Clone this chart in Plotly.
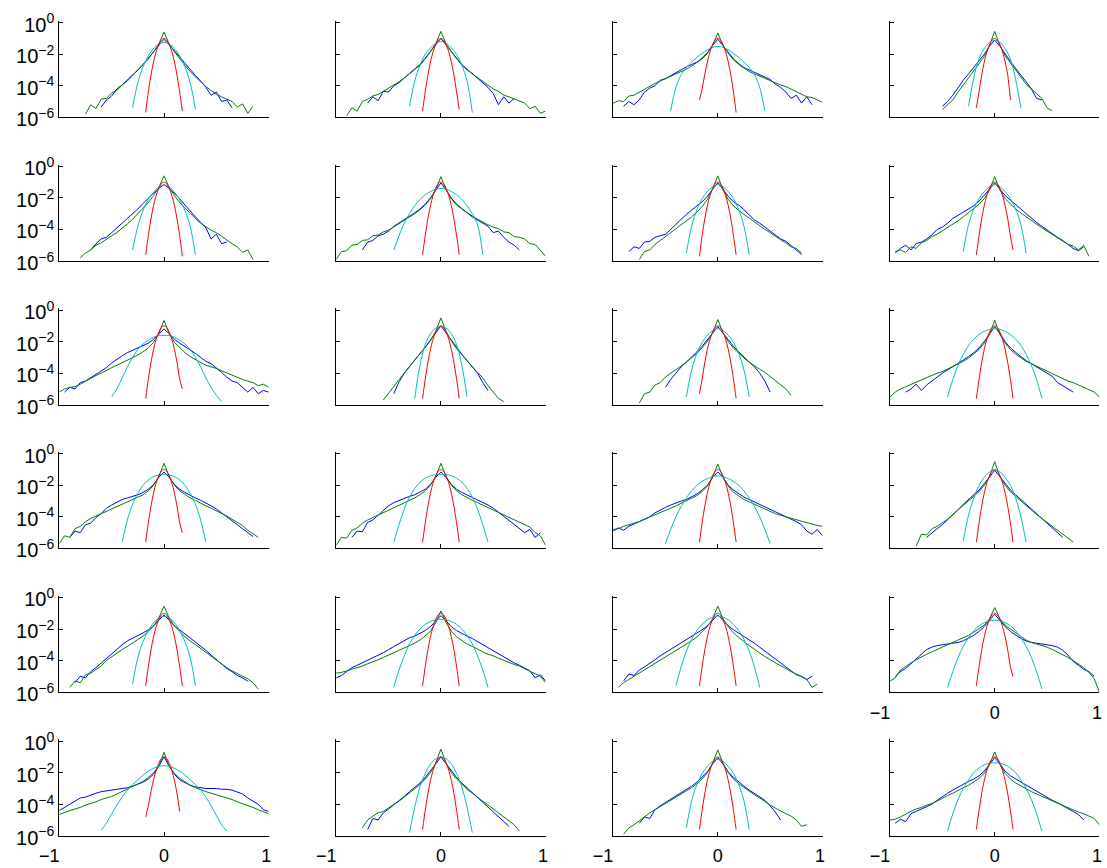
import plotly.graph_objects as go

N = None

# x grids (bin centres) for the empirical curves and the two smooth curves
X_BG = [-1.0, -0.95, -0.9, -0.85, -0.8, -0.75, -0.7, -0.65, -0.6, -0.55, -0.5, -0.45, -0.4, -0.35,
        -0.3, -0.25, -0.2, -0.15, -0.1, -0.05, 0.0, 0.05, 0.1, 0.15, 0.2, 0.25, 0.3, 0.35, 0.4,
        0.45, 0.5, 0.55, 0.6, 0.65, 0.7, 0.75, 0.8, 0.85, 0.9, 0.95, 1.0]
X_C = [-0.6, -0.55, -0.5, -0.45, -0.4, -0.35, -0.3, -0.25, -0.2, -0.15, -0.1, -0.05, 0.0,
       0.05, 0.1, 0.15, 0.2, 0.25, 0.3, 0.35, 0.4, 0.45, 0.5, 0.55, 0.6]
X_R = [-0.175, -0.15, -0.125, -0.1, -0.075, -0.05, -0.025, 0.0, 0.025, 0.05, 0.075, 0.1, 0.125, 0.15, 0.175]

Y_TICKS = [1, 1e-2, 1e-4, 1e-6]
Y_TICK_TEXT = ["10<sup>0</sup>", "10<sup>\u22122</sup>", "10<sup>\u22124</sup>", "10<sup>\u22126</sup>"]
X_TICKS = [-1, 0, 1]
X_TICK_TEXT = ["\u22121\u00a0\u00a0\u00a0\u00a0", "0", "1\u00a0"]

# ---- values are log10 of the probability density ----
# row 1
G_11 = [N, N, N, N, N, -5.8, -5.2, -5.45, -4.85, -4.8, -4.45, -4.3, -3.95, -3.7, -3.35, -3.05, -2.7, -2.3, -1.85, -1.35, -0.6,
        -1.35, -1.85, -2.3, -2.7, -3.1, -3.45, -3.75, -4.05, -4.3, -4.55, -4.7, -4.85, -5.0, -5.35, -5.15, -5.75, -5.3, N, N, N]
B_11 = [N, N, N, N, N, N, N, N, -5.35, -4.9, -4.65, -4.2, -3.95, -3.65, -3.3, -3.0, -2.65, -2.25, -1.8, -1.4, -1.05,
        -1.4, -1.8, -2.2, -2.6, -3.0, -3.35, -3.7, -4.1, -4.6, -4.4, -5.0, -4.9, -5.4, N, N, N, N, N, N, N]
C_11 = [N, N, N, N, N, N, -5.4, -3.8, -2.8, -2.1, -1.65, -1.35, -1.25, -1.35, -1.65, -2.1, -2.8, -3.8, -5.5, N, N, N, N, N, N]
R_11 = [-5.7, -4.4, -3.35, -2.5, -1.85, -1.4, -1.1, -1.0, -1.1, -1.4, -1.85, -2.5, -3.35, -4.4, -5.6]

G_12 = [N, N, -5.9, -5.4, -5.6, -5.0, -4.85, -4.65, -4.55, -4.35, -4.2, -4.0, -3.75, -3.5, -3.25, -3.0, -2.7, -2.3, -1.85, -1.35, -0.55,
        -1.35, -1.85, -2.3, -2.7, -3.0, -3.25, -3.5, -3.75, -3.95, -4.2, -4.35, -4.6, -4.7, -4.85, -5.0, -5.1, -5.45, -5.3, -5.75, -5.6]
B_12 = [N, N, N, N, N, N, -5.1, -4.7, -4.95, -4.35, -4.4, -4.0, -3.8, -3.5, -3.25, -2.95, -2.65, -2.25, -1.8, -1.4, -1.0,
        -1.4, -1.8, -2.25, -2.65, -2.95, -3.25, -3.5, -3.8, -4.1, -4.5, -5.2, -4.7, -5.1, -4.8, N, N, N, N, N, N]
C_12 = [N, N, N, N, N, N, -5.3, -3.7, -2.7, -2.0, -1.6, -1.3, -1.2, -1.3, -1.6, -2.0, -2.7, -3.7, -5.7, N, N, N, N, N, N]
R_12 = [-5.6, -4.4, -3.35, -2.5, -1.85, -1.4, -1.1, -1.0, -1.1, -1.4, -1.85, -2.5, -3.35, -4.4, -5.5]

G_13 = [-5.1, -4.95, -5.0, -4.65, -4.6, -4.4, -4.2, -4.05, -3.85, -3.7, -3.55, -3.45, -3.3, -3.15, -2.95, -2.75, -2.55, -2.3, -1.95, -1.45, -0.65,
        -1.45, -1.95, -2.35, -2.65, -2.9, -3.1, -3.25, -3.4, -3.55, -3.65, -3.8, -3.95, -4.05, -4.2, -4.35, -4.5, -4.7, -4.75, -4.9, -5.05]
B_13 = [N, N, -5.3, -5.0, -5.2, -4.9, -4.4, -4.15, -4.0, -3.65, -3.55, -3.35, -3.15, -2.95, -2.8, -2.65, -2.5, -2.25, -1.9, -1.45, -1.05,
        -1.45, -1.9, -2.3, -2.6, -2.85, -3.0, -3.15, -3.3, -3.45, -3.6, -3.9, -4.1, -4.4, -4.8, -4.6, -5.1, -4.7, -5.2, N, N]
C_13 = [N, N, N, -5.6, -4.1, -3.3, -2.85, -2.5, -2.2, -1.95, -1.72, -1.57, -1.5, -1.57, -1.72, -1.95, -2.2, -2.5, -2.85, -3.3, -4.1, -5.6, N, N, N]
R_13 = [-4.9, -4.2, -3.3, -2.5, -1.85, -1.4, -1.1, -1.0, -1.1, -1.4, -1.85, -2.5, -3.35, -4.4, -5.7]

G_14 = [N, N, N, N, N, N, N, N, N, N, -5.5, -5.2, -4.9, -4.4, -3.95, -3.5, -3.1, -2.65, -2.15, -1.45, -0.55,
        -1.45, -2.1, -2.55, -3.0, -3.45, -3.9, -4.2, -4.5, -4.8, -5.4, -5.6, N, N, N, N, N, N, N, N, N]
B_14 = [N, N, N, N, N, N, N, N, N, N, -5.3, -5.0, -4.6, -4.1, -3.65, -3.25, -2.85, -2.45, -2.0, -1.5, -1.1,
        -1.5, -2.0, -2.45, -2.9, -3.3, -3.75, -4.2, -4.8, -4.9, N, N, N, N, N, N, N, N, N, N, N]
C_14 = [N, N, N, N, N, N, N, -5.3, -3.5, -2.3, -1.65, -1.25, -1.12, -1.25, -1.65, -2.3, -3.6, -5.4, N, N, N, N, N, N, N]
R_14 = [-5.4, -4.4, -3.35, -2.5, -1.85, -1.4, -1.1, -1.0, -1.1, -1.4, -1.85, -2.5, -3.35, -4.9, N]

# row 2
G_21 = [N, N, N, N, -5.8, -5.5, -5.3, -5.0, -4.85, -4.6, -4.4, -4.2, -3.95, -3.65, -3.35, -3.0, -2.7, -2.3, -1.85, -1.35, -0.6,
        -1.35, -1.85, -2.3, -2.65, -3.0, -3.3, -3.6, -3.85, -4.05, -4.2, -4.45, -4.7, -4.9, -5.1, -5.45, -5.3, -5.9, N, N, N]
B_21 = [N, N, N, N, N, N, -5.3, -4.9, -4.6, -4.5, -4.2, -3.9, -3.6, -3.35, -3.0, -2.7, -2.35, -2.0, -1.7, -1.4, -1.15,
        -1.4, -1.7, -2.05, -2.45, -2.85, -3.2, -3.55, -3.9, -4.6, -4.3, -4.9, -4.8, N, N, N, N, N, N, N, N]
C_21 = [N, N, N, N, N, N, -5.3, -3.8, -2.8, -2.1, -1.65, -1.3, -1.2, -1.3, -1.65, -2.1, -2.8, -3.8, -5.6, N, N, N, N, N, N]
R_21 = [-5.6, -4.4, -3.35, -2.5, -1.85, -1.4, -1.1, -1.0, -1.1, -1.4, -1.85, -2.5, -3.35, -4.4, -5.7]

G_22 = [-5.9, -5.4, -5.35, -5.0, -4.95, -4.7, -4.65, -4.4, -4.35, -4.15, -4.05, -3.85, -3.65, -3.45, -3.25, -3.0, -2.75, -2.45, -2.05, -1.5, -0.65,
        -1.5, -2.05, -2.45, -2.7, -2.95, -3.15, -3.35, -3.55, -3.7, -3.85, -3.95, -4.15, -4.2, -4.45, -4.5, -4.6, -4.9, -4.95, -5.3, -5.7]
B_22 = [N, N, N, N, N, -5.3, -4.8, -4.7, -4.4, -4.3, -4.1, -3.8, -3.6, -3.4, -3.2, -2.95, -2.7, -2.4, -2.0, -1.5, -1.05,
        -1.5, -2.0, -2.4, -2.7, -2.95, -3.2, -3.4, -3.6, -3.8, -4.2, -4.1, -4.5, -4.8, -5.0, -5.3, N, N, N, N, N]
C_22 = [N, N, N, -5.3, -4.4, -3.6, -3.0, -2.5, -2.1, -1.8, -1.6, -1.45, -1.4, -1.45, -1.6, -1.8, -2.1, -2.5, -3.0, -3.7, -5.6, N, N, N, N]
R_22 = [-5.6, -4.4, -3.35, -2.5, -1.85, -1.4, -1.1, -1.0, -1.1, -1.4, -1.85, -2.5, -3.35, -4.4, -5.6]

G_23 = [N, N, N, N, N, -5.9, -5.4, -5.3, -4.95, -4.7, -4.45, -4.25, -4.0, -3.75, -3.5, -3.2, -2.9, -2.55, -2.1, -1.45, -0.6,
        -1.5, -2.1, -2.5, -2.8, -3.05, -3.3, -3.55, -3.75, -4.0, -4.2, -4.45, -4.65, -4.85, -5.1, -5.2, -5.5, N, N, N, N]
B_23 = [N, N, N, -5.4, -5.1, -5.2, -4.8, -4.75, -4.5, -4.4, -4.3, -4.0, -3.65, -3.35, -3.05, -2.75, -2.5, -2.25, -1.9, -1.45, -1.05,
        -1.45, -1.9, -2.25, -2.45, -2.75, -3.05, -3.4, -3.6, -3.85, -4.1, -4.4, -4.6, -4.75, -5.0, -5.3, -5.6, N, N, N, N]
C_23 = [N, N, N, N, N, N, -5.5, -3.8, -2.75, -2.05, -1.6, -1.3, -1.15, -1.3, -1.6, -2.05, -2.75, -3.8, -5.6, N, N, N, N, N, N]
R_23 = [-5.7, -4.4, -3.35, -2.5, -1.85, -1.4, -1.1, -1.0, -1.1, -1.4, -1.85, -2.5, -3.35, -4.4, -5.6]

G_24 = [N, -5.4, -5.3, -5.45, -5.1, -5.2, -4.85, -4.7, -4.45, -4.3, -4.1, -3.9, -3.7, -3.45, -3.2, -2.95, -2.7, -2.4, -2.05, -1.5, -0.65,
        -1.5, -2.05, -2.4, -2.7, -2.95, -3.2, -3.45, -3.7, -3.9, -4.1, -4.3, -4.5, -4.75, -4.95, -5.05, -5.3, -5.0, -5.7, N, N]
B_24 = [N, -5.5, -5.2, -5.0, -5.3, -4.9, -4.8, -4.6, -4.35, -4.0, -3.85, -3.6, -3.3, -3.1, -2.9, -2.7, -2.5, -2.2, -1.85, -1.45, -1.05,
        -1.45, -1.85, -2.15, -2.4, -2.7, -3.0, -3.3, -3.55, -3.8, -4.05, -4.3, -4.5, -4.7, -4.95, -5.2, -5.35, -5.1, N, N, N]
C_24 = [N, N, N, N, N, N, -5.4, -3.7, -2.7, -2.05, -1.6, -1.3, -1.15, -1.3, -1.6, -2.05, -2.7, -3.7, -5.5, N, N, N, N, N, N]
R_24 = [-5.6, -4.4, -3.35, -2.5, -1.85, -1.4, -1.1, -1.0, -1.1, -1.4, -1.85, -2.5, -3.35, -4.4, -5.3]

# row 3
G_31 = [-5.2, -5.0, -4.9, -4.85, -4.7, -4.5, -4.35, -4.15, -4.0, -3.8, -3.65, -3.5, -3.35, -3.2, -3.0, -2.85, -2.65, -2.4, -2.05, -1.5, -0.65,
        -1.5, -2.05, -2.4, -2.7, -2.95, -3.15, -3.35, -3.5, -3.6, -3.7, -3.85, -4.0, -4.15, -4.25, -4.4, -4.5, -4.6, -4.8, -4.7, -4.9]
B_31 = [N, -5.2, -4.9, -5.0, -4.6, -4.5, -4.3, -4.1, -3.9, -3.65, -3.35, -3.1, -2.9, -2.7, -2.55, -2.45, -2.3, -2.1, -1.85, -1.5, -1.2,
        -1.5, -1.85, -2.1, -2.3, -2.5, -2.75, -3.0, -3.25, -3.4, -3.65, -3.95, -4.25, -4.5, -4.6, -4.9, -5.2, -4.9, -5.3, -5.1, -5.2]
C_31 = [N, N, -5.5, -5.0, -4.3, -3.6, -3.0, -2.5, -2.15, -1.9, -1.72, -1.62, -1.6, -1.62, -1.72, -1.9, -2.15, -2.5, -3.0, -3.6, -4.3, -4.9, -5.4, -5.8, N]
R_31 = [-5.6, -4.4, -3.35, -2.5, -1.85, -1.4, -1.1, -1.0, -1.1, -1.4, -1.85, -2.5, -3.35, -4.4, -5.0]

G_32 = [N, N, N, N, N, N, N, N, N, -5.7, -5.3, -4.85, -4.4, -4.0, -3.6, -3.2, -2.8, -2.4, -1.95, -1.35, -0.5,
        -1.35, -1.95, -2.45, -2.85, -3.2, -3.6, -3.95, -4.3, -4.8, -5.2, -5.6, -5.8, N, N, N, N, N, N, N, N]
B_32 = [N, N, N, N, N, N, N, N, N, N, N, -5.3, -4.55, -4.0, -3.6, -3.15, -2.75, -2.35, -1.9, -1.45, -1.0,
        -1.45, -1.9, -2.4, -2.8, -3.2, -3.6, -4.0, -4.6, -5.1, N, N, N, N, N, N, N, N, N, N, N]
C_32 = [N, N, N, N, N, N, N, -5.6, -3.5, -2.2, -1.5, -1.15, -1.05, -1.15, -1.5, -2.2, -3.5, -5.5, N, N, N, N, N, N, N]
R_32 = [-5.6, -4.4, -3.35, -2.5, -1.85, -1.4, -1.1, -1.0, -1.1, -1.4, -1.85, -2.5, -3.35, -4.4, -5.6]

G_33 = [N, N, N, N, N, -5.9, -5.3, -5.2, -4.75, -4.6, -4.25, -4.0, -3.8, -3.55, -3.3, -3.05, -2.75, -2.4, -2.0, -1.45, -0.6,
        -1.45, -2.0, -2.4, -2.75, -3.05, -3.3, -3.55, -3.75, -3.95, -4.2, -4.45, -4.75, -5.0, -5.4, N, N, N, N, N, N]
B_33 = [N, N, N, N, N, N, N, N, N, N, -4.9, -4.4, -4.0, -3.6, -3.3, -3.0, -2.65, -2.3, -1.9, -1.45, -1.05,
        -1.45, -1.9, -2.3, -2.65, -3.0, -3.3, -3.6, -4.0, -4.5, -5.2, N, N, N, N, N, N, N, N, N, N]
C_33 = [N, N, N, N, N, N, -5.5, -3.8, -2.75, -2.05, -1.6, -1.3, -1.18, -1.3, -1.6, -2.05, -2.75, -3.8, -5.5, N, N, N, N, N, N]
R_33 = [-5.3, -4.4, -3.35, -2.5, -1.85, -1.4, -1.1, -1.0, -1.1, -1.4, -1.85, -2.5, -3.35, -4.4, -5.6]

G_34 = [-5.5, -5.2, -5.0, -4.85, -4.7, -4.55, -4.45, -4.3, -4.15, -4.0, -3.9, -3.75, -3.6, -3.45, -3.25, -3.05, -2.8, -2.5, -2.1, -1.55, -0.65,
        -1.55, -2.1, -2.5, -2.8, -3.05, -3.25, -3.4, -3.55, -3.75, -3.9, -4.05, -4.2, -4.35, -4.5, -4.6, -4.75, -4.9, -5.1, -5.2, -5.5]
B_34 = [N, N, N, -5.2, -5.0, -4.7, -5.1, -4.75, -4.5, -4.2, -4.0, -3.8, -3.6, -3.4, -3.2, -2.95, -2.7, -2.4, -2.0, -1.5, -1.05,
        -1.5, -2.0, -2.4, -2.7, -2.95, -3.2, -3.4, -3.6, -3.85, -4.0, -4.2, -4.6, -4.8, -5.0, -5.2, N, N, N, N, N]
C_34 = [N, N, N, -5.5, -4.4, -3.5, -2.8, -2.25, -1.85, -1.55, -1.35, -1.22, -1.18, -1.22, -1.35, -1.55, -1.85, -2.25, -2.8, -3.5, -4.4, -5.6, N, N, N]
R_34 = [-5.6, -4.4, -3.35, -2.5, -1.85, -1.4, -1.1, -1.0, -1.1, -1.4, -1.85, -2.5, -3.35, -4.4, -5.6]

# row 4
G_41 = [-5.7, -5.2, -5.3, -4.75, -4.6, -4.3, -4.1, -3.95, -3.8, -3.65, -3.55, -3.4, -3.25, -3.1, -2.95, -2.8, -2.6, -2.35, -2.0, -1.45, -0.6,
        -1.45, -2.0, -2.35, -2.6, -2.8, -2.95, -3.15, -3.3, -3.45, -3.6, -3.75, -3.95, -4.15, -4.35, -4.55, -4.85, -5.1, -5.3, N, N]
B_41 = [N, N, -5.3, -4.9, -5.0, -4.5, -4.4, -4.05, -3.8, -3.45, -3.25, -3.05, -2.9, -2.8, -2.7, -2.6, -2.45, -2.25, -1.95, -1.5, -1.15,
        -1.5, -1.95, -2.25, -2.45, -2.65, -2.8, -2.95, -3.1, -3.3, -3.5, -3.75, -4.0, -4.25, -4.5, -4.75, -5.0, -5.25, N, N, N]
C_41 = [N, N, N, N, -5.6, -4.2, -3.2, -2.5, -2.0, -1.65, -1.45, -1.33, -1.3, -1.33, -1.45, -1.65, -2.0, -2.5, -3.2, -4.2, -5.6, N, N, N, N]
R_41 = [-5.6, -4.4, -3.35, -2.5, -1.85, -1.4, -1.1, -1.0, -1.1, -1.4, -1.85, -2.5, -3.35, -4.4, -5.0]

G_42 = [-5.8, -5.3, -5.35, -4.85, -4.7, -4.4, -4.2, -4.05, -3.9, -3.7, -3.55, -3.4, -3.25, -3.1, -2.95, -2.8, -2.6, -2.35, -2.0, -1.45, -0.6,
        -1.45, -2.0, -2.35, -2.6, -2.8, -2.95, -3.1, -3.25, -3.4, -3.55, -3.7, -3.85, -4.0, -4.2, -4.35, -4.5, -4.65, -5.0, -5.2, -5.8]
B_42 = [N, N, N, -5.3, -4.9, -4.95, -4.35, -4.2, -3.9, -3.55, -3.3, -3.1, -2.95, -2.85, -2.7, -2.6, -2.45, -2.25, -1.95, -1.5, -1.15,
        -1.5, -1.95, -2.25, -2.45, -2.6, -2.75, -2.9, -3.05, -3.25, -3.45, -3.7, -3.95, -4.2, -4.45, -4.7, -5.0, -4.8, -5.3, -5.0, N]
C_42 = [N, N, N, -5.6, -4.5, -3.5, -2.75, -2.2, -1.8, -1.55, -1.4, -1.32, -1.3, -1.32, -1.4, -1.55, -1.8, -2.2, -2.75, -3.5, -4.5, -5.6, N, N, N]
R_42 = [-5.6, -4.4, -3.35, -2.5, -1.85, -1.4, -1.1, -1.0, -1.1, -1.4, -1.85, -2.5, -3.35, -4.4, -5.6]

G_43 = [-4.8, -4.75, -4.6, -4.5, -4.4, -4.3, -4.15, -4.0, -3.9, -3.75, -3.6, -3.45, -3.3, -3.15, -3.0, -2.85, -2.65, -2.4, -2.05, -1.5, -0.65,
        -1.5, -2.05, -2.45, -2.7, -2.9, -3.05, -3.2, -3.35, -3.5, -3.65, -3.8, -3.9, -4.0, -4.1, -4.2, -4.3, -4.4, -4.5, -4.55, -4.6]
B_43 = [-4.9, -4.7, -4.85, -4.6, -4.45, -4.3, -4.15, -4.0, -3.75, -3.55, -3.4, -3.25, -3.1, -3.0, -2.9, -2.75, -2.55, -2.3, -2.0, -1.5, -1.15,
        -1.5, -2.0, -2.3, -2.55, -2.75, -2.9, -3.05, -3.2, -3.35, -3.5, -3.65, -3.8, -4.0, -4.15, -4.3, -4.5, -4.9, -5.1, -4.8, -5.2]
C_43 = [N, N, -5.7, -4.8, -4.0, -3.35, -2.8, -2.35, -2.0, -1.75, -1.57, -1.45, -1.4, -1.45, -1.57, -1.75, -2.0, -2.35, -2.8, -3.35, -4.0, -4.8, -5.7, N, N]
R_43 = [-5.6, -4.4, -3.35, -2.5, -1.85, -1.4, -1.1, -1.0, -1.1, -1.4, -1.85, -2.5, -3.35, -4.4, -5.6]

G_44 = [N, N, N, N, N, -5.85, -5.1, -5.15, -4.75, -4.6, -4.4, -4.15, -3.85, -3.55, -3.25, -2.95, -2.7, -2.4, -2.0, -1.45, -0.5,
        -1.45, -2.0, -2.4, -2.7, -3.0, -3.3, -3.6, -3.85, -4.1, -4.35, -4.6, -4.9, -5.15, -5.4, -5.6, N, N, N, N, N]
B_44 = [N, N, N, N, N, N, N, -5.3, -5.0, -4.75, -4.5, -4.2, -3.9, -3.55, -3.2, -2.9, -2.6, -2.3, -1.9, -1.45, -1.05,
        -1.45, -1.9, -2.3, -2.6, -2.9, -3.2, -3.5, -3.8, -4.1, -4.45, -4.75, -5.05, -5.3, N, N, N, N, N, N, N]
C_44 = [N, N, N, N, N, N, -5.5, -3.9, -2.8, -2.0, -1.5, -1.15, -1.05, -1.15, -1.5, -2.0, -2.8, -4.0, -5.6, N, N, N, N, N, N]
R_44 = [-5.6, -4.4, -3.35, -2.5, -1.85, -1.4, -1.1, -1.0, -1.1, -1.4, -1.85, -2.5, -3.35, -4.4, -5.6]

# row 5
G_51 = [N, N, -5.7, -5.3, -5.4, -4.9, -4.8, -4.6, -4.35, -4.0, -3.75, -3.5, -3.3, -3.1, -2.9, -2.7, -2.45, -2.15, -1.8, -1.3, -0.55,
        -1.3, -1.8, -2.15, -2.5, -2.75, -3.0, -3.25, -3.45, -3.7, -3.95, -4.2, -4.45, -4.65, -4.85, -5.0, -5.15, -5.4, -5.8, N, N]
B_51 = [N, N, N, -5.4, -5.0, -5.1, -4.7, -4.45, -4.15, -3.85, -3.6, -3.3, -3.0, -2.75, -2.6, -2.4, -2.25, -2.05, -1.8, -1.45, -1.1,
        -1.45, -1.8, -2.05, -2.3, -2.55, -2.8, -3.05, -3.35, -3.65, -3.95, -4.25, -4.5, -4.7, -4.95, -5.1, -5.3, N, N, N, N]
C_51 = [N, N, N, N, N, N, -5.5, -3.8, -2.8, -2.1, -1.6, -1.3, -1.2, -1.3, -1.6, -2.1, -2.8, -3.8, -5.6, N, N, N, N, N, N]
R_51 = [-5.6, -4.4, -3.35, -2.5, -1.85, -1.4, -1.1, -1.0, -1.1, -1.4, -1.85, -2.5, -3.35, -4.4, -5.6]

G_52 = [-4.8, -4.75, -4.65, -4.55, -4.45, -4.35, -4.2, -4.1, -3.95, -3.8, -3.65, -3.5, -3.35, -3.2, -3.05, -2.9, -2.7, -2.45, -2.15, -1.6, -0.85,
        -1.6, -2.15, -2.5, -2.75, -2.95, -3.1, -3.3, -3.45, -3.6, -3.7, -3.85, -4.0, -4.1, -4.25, -4.35, -4.5, -4.65, -4.8, -5.0, -5.4]
B_52 = [-5.1, -4.95, -4.7, -4.45, -4.3, -4.15, -4.0, -3.85, -3.7, -3.5, -3.3, -3.1, -2.9, -2.7, -2.55, -2.45, -2.3, -2.1, -1.85, -1.5, -1.15,
        -1.5, -1.85, -2.1, -2.3, -2.45, -2.6, -2.8, -3.0, -3.2, -3.4, -3.6, -3.8, -3.95, -4.15, -4.3, -4.5, -4.65, -5.1, -4.9, -5.3]
C_52 = [N, N, N, -5.7, -4.6, -3.7, -2.95, -2.4, -2.0, -1.7, -1.52, -1.42, -1.4, -1.42, -1.52, -1.7, -2.0, -2.4, -2.95, -3.7, -4.6, -5.7, N, N, N]
R_52 = [-5.6, -4.4, -3.35, -2.5, -1.85, -1.4, -1.1, -1.0, -1.1, -1.4, -1.85, -2.5, -3.35, -4.4, -5.6]

G_53 = [N, -5.7, -5.4, -5.2, -5.0, -4.8, -4.6, -4.35, -4.15, -3.95, -3.75, -3.55, -3.35, -3.15, -2.95, -2.75, -2.5, -2.2, -1.85, -1.35, -0.55,
        -1.35, -1.85, -2.25, -2.55, -2.8, -3.05, -3.3, -3.5, -3.75, -3.95, -4.15, -4.35, -4.5, -4.7, -4.85, -5.0, -5.2, -5.7, -5.5, N]
B_53 = [N, N, -5.3, -4.85, -4.95, -4.6, -4.4, -4.2, -3.95, -3.7, -3.5, -3.3, -3.05, -2.85, -2.65, -2.45, -2.25, -2.05, -1.8, -1.45, -1.1,
        -1.45, -1.8, -2.05, -2.25, -2.45, -2.65, -2.9, -3.15, -3.4, -3.65, -3.85, -4.1, -4.35, -4.6, -4.9, -5.0, -5.2, -5.0, N, N]
C_53 = [N, N, N, N, -5.6, -4.4, -3.4, -2.65, -2.1, -1.7, -1.42, -1.25, -1.18, -1.25, -1.42, -1.7, -2.1, -2.65, -3.4, -4.4, -5.7, N, N, N, N]
R_53 = [-5.6, -4.4, -3.35, -2.5, -1.85, -1.4, -1.1, -1.0, -1.1, -1.4, -1.85, -2.5, -3.35, -4.4, -5.6]

G_54 = [-5.3, -5.1, -4.6, -4.35, -4.15, -3.95, -3.75, -3.6, -3.45, -3.3, -3.15, -3.0, -2.85, -2.7, -2.55, -2.4, -2.2, -2.0, -1.75, -1.35, -0.64,
        -1.35, -1.75, -2.0, -2.25, -2.5, -2.7, -2.85, -2.95, -3.05, -3.15, -3.3, -3.45, -3.6, -3.8, -4.0, -4.2, -4.45, -4.75, -5.15, -6.0]
B_54 = [N, -5.0, -4.7, -4.5, -4.2, -3.9, -3.55, -3.3, -3.15, -3.05, -3.0, -2.95, -2.9, -2.85, -2.75, -2.6, -2.4, -2.15, -1.85, -1.45, -1.07,
        -1.45, -1.85, -2.15, -2.4, -2.6, -2.75, -2.85, -2.9, -2.95, -3.0, -3.05, -3.15, -3.35, -3.65, -4.05, -4.3, -4.55, -4.7, -5.0, N]
C_54 = [N, N, N, -5.7, -4.7, -3.8, -3.1, -2.55, -2.1, -1.8, -1.6, -1.48, -1.45, -1.48, -1.6, -1.8, -2.1, -2.55, -3.1, -3.8, -4.7, -5.8, N, N, N]
R_54 = [-5.6, -4.4, -3.35, -2.5, -1.85, -1.4, -1.1, -1.0, -1.1, -1.4, -1.85, -2.5, -3.35, -4.4, -5.0]

# row 6
G_61 = [-4.65, -4.5, -4.4, -4.3, -4.2, -4.05, -3.95, -3.85, -3.7, -3.6, -3.5, -3.35, -3.2, -3.05, -2.9, -2.75, -2.55, -2.3, -2.0, -1.6, -0.7,
        -1.6, -2.05, -2.35, -2.6, -2.8, -2.95, -3.1, -3.2, -3.3, -3.4, -3.5, -3.6, -3.7, -3.85, -3.95, -4.1, -4.2, -4.35, -4.5, -4.6]
B_61 = [-4.4, -4.2, -4.0, -3.8, -3.6, -3.55, -3.4, -3.3, -3.2, -3.15, -3.1, -3.05, -3.0, -2.95, -2.85, -2.75, -2.6, -2.4, -2.1, -1.6, -1.0,
        -1.6, -2.1, -2.45, -2.65, -2.8, -2.9, -2.95, -3.0, -3.0, -3.0, -3.05, -3.05, -3.1, -3.2, -3.35, -3.6, -3.8, -4.0, -4.35, -4.45]
C_61 = [-5.65, -5.2, -4.6, -4.05, -3.55, -3.1, -2.75, -2.45, -2.15, -1.9, -1.72, -1.6, -1.55, -1.6, -1.72, -1.9, -2.15, -2.45, -2.75, -3.1, -3.55, -4.1, -4.7, -5.3, -5.7]
R_61 = [-4.8, -4.1, -3.2, -2.45, -1.85, -1.4, -1.1, -1.0, -1.1, -1.4, -1.85, -2.5, -3.35, -4.45, N]

G_62 = [N, N, N, N, N, -5.5, -5.0, -4.75, -4.55, -4.45, -4.25, -4.0, -3.8, -3.55, -3.3, -3.05, -2.75, -2.4, -2.0, -1.4, -0.5,
        -1.4, -2.0, -2.4, -2.75, -3.05, -3.3, -3.55, -3.8, -4.05, -4.35, -4.55, -4.8, -5.1, -5.3, -5.7, N, N, N, N, N]
B_62 = [N, N, N, N, N, N, -5.6, -4.9, -5.0, -4.55, -4.3, -4.05, -3.8, -3.5, -3.2, -2.95, -2.65, -2.3, -1.9, -1.45, -1.0,
        -1.45, -1.9, -2.3, -2.65, -2.95, -3.25, -3.55, -3.85, -4.2, -4.5, -4.75, -5.1, -5.4, N, N, N, N, N, N, N]
C_62 = [N, N, N, N, N, N, -5.8, -4.2, -2.9, -2.05, -1.45, -1.12, -1.0, -1.12, -1.45, -2.05, -2.9, -4.2, -5.8, N, N, N, N, N, N]
R_62 = [-5.6, -4.4, -3.35, -2.5, -1.85, -1.4, -1.1, -1.0, -1.1, -1.4, -1.85, -2.5, -3.35, -4.4, -5.6]

G_63 = [N, N, -5.9, -5.5, -5.3, -5.05, -4.75, -4.55, -4.35, -4.15, -4.0, -3.8, -3.6, -3.4, -3.2, -2.95, -2.7, -2.4, -2.0, -1.4, -0.55,
        -1.4, -2.0, -2.4, -2.7, -2.95, -3.2, -3.4, -3.6, -3.85, -4.05, -4.25, -4.45, -4.6, -4.75, -5.0, -5.4, -5.3, N, N, N]
B_63 = [N, N, N, N, N, -5.2, -4.8, -4.9, -4.35, -4.1, -3.9, -3.7, -3.5, -3.3, -3.1, -2.85, -2.6, -2.3, -1.95, -1.45, -1.05,
        -1.45, -1.95, -2.3, -2.6, -2.85, -3.1, -3.3, -3.5, -3.75, -4.1, -4.5, -5.0, N, N, N, N, N, N, N, N]
C_63 = [N, N, N, N, N, N, -5.5, -3.8, -2.75, -2.05, -1.6, -1.28, -1.15, -1.28, -1.6, -2.05, -2.75, -3.8, -5.6, N, N, N, N, N, N]
R_63 = [-5.6, -4.4, -3.35, -2.5, -1.85, -1.4, -1.1, -1.0, -1.1, -1.4, -1.85, -2.5, -3.35, -4.4, -5.6]

G_64 = [-5.0, -4.95, -4.8, -4.6, -4.45, -4.3, -4.2, -4.05, -3.95, -3.8, -3.6, -3.45, -3.3, -3.1, -2.95, -2.8, -2.6, -2.35, -2.05, -1.5, -0.68,
        -1.5, -2.05, -2.4, -2.65, -2.85, -3.05, -3.2, -3.35, -3.5, -3.65, -3.8, -3.95, -4.1, -4.25, -4.35, -4.5, -4.6, -4.75, -4.9, -5.3]
B_64 = [N, -5.2, -4.95, -5.1, -4.6, -4.45, -4.3, -4.2, -4.0, -3.75, -3.5, -3.3, -3.1, -2.9, -2.7, -2.55, -2.4, -2.2, -1.9, -1.45, -1.05,
        -1.45, -1.9, -2.2, -2.4, -2.55, -2.75, -2.95, -3.15, -3.35, -3.55, -3.75, -3.9, -4.1, -4.3, -4.45, -4.65, -5.0, N, N, N]
C_64 = [N, N, N, -5.7, -4.6, -3.7, -3.0, -2.45, -2.0, -1.7, -1.5, -1.4, -1.37, -1.4, -1.5, -1.7, -2.0, -2.45, -3.0, -3.7, -4.6, -5.7, N, N, N]
R_64 = [-5.6, -4.4, -3.35, -2.5, -1.85, -1.4, -1.1, -1.0, -1.1, -1.4, -1.85, -2.5, -3.35, -4.4, -5.6]

PANELS = [
    [(B_11, G_11, C_11, R_11), (B_12, G_12, C_12, R_12), (B_13, G_13, C_13, R_13), (B_14, G_14, C_14, R_14)],
    [(B_21, G_21, C_21, R_21), (B_22, G_22, C_22, R_22), (B_23, G_23, C_23, R_23), (B_24, G_24, C_24, R_24)],
    [(B_31, G_31, C_31, R_31), (B_32, G_32, C_32, R_32), (B_33, G_33, C_33, R_33), (B_34, G_34, C_34, R_34)],
    [(B_41, G_41, C_41, R_41), (B_42, G_42, C_42, R_42), (B_43, G_43, C_43, R_43), (B_44, G_44, C_44, R_44)],
    [(B_51, G_51, C_51, R_51), (B_52, G_52, C_52, R_52), (B_53, G_53, C_53, R_53), (B_54, G_54, C_54, R_54)],
    [(B_61, G_61, C_61, R_61), (B_62, G_62, C_62, R_62), (B_63, G_63, C_63, R_63), (B_64, G_64, C_64, R_64)],
]

BLUE, GREEN, CYAN, RED = "#0000ff", "#008000", "#00bfbf", "#ff0000"

W_PX, H_PX = 1107, 868
COL_LEFT = [59.3, 336.2, 613.1, 890.0]
COL_W = 209.4
ROW_BOTTOM = [117.3, 261.0, 404.7, 548.4, 692.1, 835.8]
ROW_H = 96.5


def lin(vals):
    return [None if v is None else 10 ** v for v in vals]


fig = go.Figure()
layout = {}
YFONT = dict(family="Liberation Sans, Arial, sans-serif", size=20, color="black")
XFONT = dict(family="Liberation Sans, Arial, sans-serif", size=18, color="black")

for r in range(6):
    for c in range(4):
        k = r * 4 + c + 1
        sfx = "" if k == 1 else str(k)
        B, G, C, R = PANELS[r][c]
        for xs, ys, col, shape in ((X_BG, B, BLUE, "linear"), (X_BG, G, GREEN, "linear"),
                                   (X_C, C, CYAN, "spline"), (X_R, R, RED, "spline")):
            fig.add_trace(go.Scatter(x=xs, y=lin(ys), mode="lines", line=dict(color=col, width=1, shape=shape),
                                     xaxis="x" + sfx, yaxis="y" + sfx, showlegend=False, hoverinfo="skip"))
        x0 = COL_LEFT[c] / W_PX
        x1 = (COL_LEFT[c] + COL_W) / W_PX
        y0 = 1 - ROW_BOTTOM[r] / H_PX
        y1 = 1 - (ROW_BOTTOM[r] - ROW_H) / H_PX
        show_x = (r == 5) or (r == 4 and c == 3)
        layout["xaxis" + sfx] = dict(domain=[x0, x1], anchor="y" + sfx, range=[-1, 1], automargin=False,
                                     tickmode="array", tickvals=X_TICKS, ticktext=X_TICK_TEXT, showticklabels=show_x,
                                     ticks="inside", ticklen=4, tickcolor="black", tickwidth=1,
                                     ticklabelstandoff=4,
                                     showline=True, linecolor="black", linewidth=1,
                                     showgrid=False, zeroline=False, tickfont=XFONT, fixedrange=True)
        layout["yaxis" + sfx] = dict(domain=[y0, y1], anchor="x" + sfx, type="log", range=[-6, 0.12], automargin=False,
                                     tickmode="array", tickvals=Y_TICKS, ticktext=Y_TICK_TEXT, showticklabels=(c == 0),
                                     ticks="inside", ticklen=4, tickcolor="black", tickwidth=1,
                                     ticklabelshift=2,
                                     showline=True, linecolor="black", linewidth=1,
                                     showgrid=False, zeroline=False, tickfont=YFONT, fixedrange=True)

fig.update_layout(width=W_PX, height=H_PX, margin=dict(l=0, r=0, t=0, b=0, autoexpand=False),
                  paper_bgcolor="white", plot_bgcolor="white", showlegend=False, **layout)
fig.write_html("out.html")
